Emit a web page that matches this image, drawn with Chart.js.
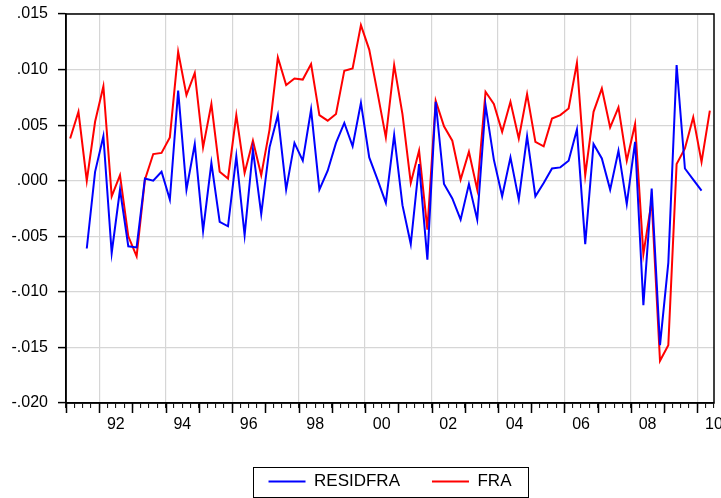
<!DOCTYPE html>
<html>
<head>
<meta charset="utf-8">
<script src="https://cdn.jsdelivr.net/npm/chart.js@4.4.0/dist/chart.umd.min.js"></script>
<style>
  html, body { margin: 0; padding: 0; background: #fff; }
</style>
</head>
<body>
<canvas id="chart_line" width="721" height="498"></canvas>
<script>
// quarterly sample 1991Q1 - 2010Q2
const quarters = [];
for (let yr = 1991; yr <= 2010; yr++) {
    for (let q = 1; q <= 4; q++) {
        if (yr === 2010 && q > 2) break;
        quarters.push(yr + 'Q' + q);
    }
}

const residfra = [
    null, null, -0.0061, 0.0008, 0.0040, -0.0065, -0.0008, -0.0059, -0.0060, 0.0002,
    0.0000, 0.0008, -0.0017, 0.0081, -0.0008, 0.0033, -0.0045, 0.0016, -0.0037, -0.0041,
    0.0022, -0.0049, 0.0028, -0.0030, 0.0030, 0.0059, -0.0008, 0.0034, 0.0018, 0.0064,
    -0.0008, 0.0009, 0.0034, 0.0052, 0.0031, 0.0070, 0.0021, 0.0001, -0.0020, 0.0041,
    -0.0022, -0.0057, 0.0015, -0.0071, 0.0071, -0.0003, -0.0016, -0.0035, -0.0003, -0.0035,
    0.0068, 0.0019, -0.0014, 0.0021, -0.0017, 0.0040, -0.0014, -0.0002, 0.0011, 0.0012,
    0.0018, 0.0046, -0.0057, 0.0033, 0.0020, -0.0008, 0.0027, -0.0021, 0.0035, -0.0112,
    -0.0007, -0.0148, -0.0074, 0.0104, 0.0011, 0.0001, -0.0009, null
];

const fra = [
    0.0038, 0.0062, 0.0000, 0.0053, 0.0085, -0.0014, 0.0005, -0.0050, -0.0068, 0.0001,
    0.0024, 0.0025, 0.0039, 0.0116, 0.0077, 0.0097, 0.0030, 0.0069, 0.0008, 0.0002,
    0.0059, 0.0007, 0.0036, 0.0005, 0.0046, 0.0111, 0.0086, 0.0092, 0.0091, 0.0105,
    0.0059, 0.0054, 0.0060, 0.0099, 0.0101, 0.0140, 0.0118, 0.0079, 0.0039, 0.0104,
    0.0060, -0.0002, 0.0027, -0.0044, 0.0072, 0.0049, 0.0036, 0.0001, 0.0026, -0.0008,
    0.0080, 0.0069, 0.0044, 0.0071, 0.0038, 0.0078, 0.0035, 0.0031, 0.0056, 0.0059,
    0.0065, 0.0106, 0.0005, 0.0062, 0.0083, 0.0048, 0.0066, 0.0018, 0.0051, -0.0066,
    -0.0018, -0.0162, -0.0148, 0.0015, 0.0029, 0.0057, 0.0017, 0.0063
];

const yMin = -0.020, yMax = 0.015, yStep = 0.005;
const xMin = 1991, xMax = 2010.5;

const FONT = "'Liberation Sans', Arial, sans-serif";
const GRID = '#d6d6d6';

// quarter label -> position at the middle of the quarter
const qPos = s => Number(s.slice(0, 4)) + (Number(s.slice(5)) - 0.5) / 4;
const toPoints = arr => quarters.map((q, i) => ({ x: qPos(q), y: arr[i] }));

const extras = {
    id: 'extras',
    afterLayout(chart) {
        // nudge legend down a little
        chart.legend.top += 2;
        chart.legend.bottom += 2;
    },
    afterDraw(chart) {
        const { ctx, chartArea: { left, right, top, bottom }, scales: { x } } = chart;
        ctx.save();
        ctx.strokeStyle = '#000';
        ctx.lineWidth = 1.5;
        ctx.strokeRect(left, top, right - left, bottom - top);

        // longer tick at each year start
        ctx.beginPath();
        x.ticks.forEach(t => {
            if (Number.isInteger(t.value)) {
                const px = Math.round(x.getPixelForValue(t.value)) + 0.5;
                ctx.moveTo(px, bottom);
                ctx.lineTo(px, bottom + 10);
            }
        });
        ctx.lineWidth = 1.5;
        ctx.stroke();

        // box round the legend
        const hb = chart.legend.legendHitBoxes;
        if (hb && hb.length) {
            const first = hb[0], last = hb[hb.length - 1];
            const cy = first.top + first.height / 2;
            ctx.lineWidth = 1;
            ctx.strokeRect(Math.round(first.left - 16) + 0.5, Math.round(cy - 15) + 0.5,
                Math.round(last.left + last.width + 16 - (first.left - 16)), 30);
        }
        ctx.restore();
    }
};

new Chart(document.getElementById('chart_line'), {
    type: 'line',
    data: {
        datasets: [
            {
                label: 'RESIDFRA',
                data: toPoints(residfra),
                borderColor: '#0000ff',
                backgroundColor: '#0000ff',
                borderWidth: 2,
                pointRadius: 0,
                tension: 0,
                spanGaps: false
            },
            {
                label: 'FRA',
                data: toPoints(fra),
                borderColor: '#ff0000',
                backgroundColor: '#ff0000',
                borderWidth: 2,
                pointRadius: 0,
                tension: 0,
                spanGaps: false
            }
        ]
    },
    options: {
        responsive: false,
        animation: false,
        layout: { padding: { top: 14, right: 7, bottom: 0, left: 0 } },
        plugins: {
            tooltip: { enabled: false },
            legend: {
                position: 'bottom',
                fullSize: false,
                labels: {
                    usePointStyle: true,
                    pointStyle: 'line',
                    pointStyleWidth: 37,
                    padding: 32,
                    color: '#000',
                    font: { family: FONT, size: 17 }
                }
            }
        },
        scales: {
            x: {
                type: 'linear',
                min: xMin,
                max: xMax,
                border: { color: '#000', width: 1.5 },
                grid: {
                    color: c => (c.tick && Number.isInteger(c.tick.value) && c.tick.value % 2 === 0) ? GRID : 'rgba(0,0,0,0)',
                    lineWidth: 1.2,
                    tickColor: '#000',
                    tickLength: 5,
                    tickWidth: 1
                },
                ticks: {
                    stepSize: 0.25,
                    autoSkip: false,
                    maxRotation: 0,
                    minRotation: 0,
                    padding: 7,
                    color: '#000',
                    font: { family: FONT, size: 16 },
                    callback: v => {
                        const yr = v - 0.5;
                        return (Number.isInteger(yr) && yr % 2 === 0) ? String(yr % 100).padStart(2, '0') : '';
                    }
                },
                afterFit: s => { s.height = 36; s.paddingRight = 0; s.paddingLeft = 0; }
            },
            y: {
                min: yMin,
                max: yMax,
                border: { color: '#000', width: 1.5 },
                grid: {
                    color: GRID,
                    lineWidth: 1.2,
                    tickColor: '#000',
                    tickLength: 8,
                    tickWidth: 1.5
                },
                ticks: {
                    stepSize: yStep,
                    padding: 10,
                    color: '#000',
                    font: { family: FONT, size: 16 },
                    callback: v => v.toFixed(3).replace('0.', '.')
                },
                afterFit: s => { s.width = 66; s.paddingTop = 0; s.paddingBottom = 0; }
            }
        }
    },
    plugins: [extras]
});
</script>
</body>
</html>
